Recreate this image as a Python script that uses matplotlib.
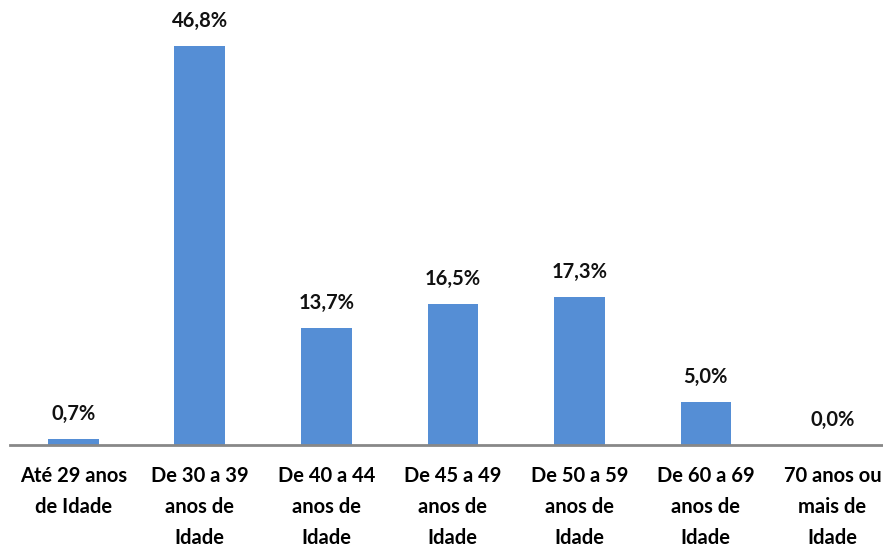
import matplotlib
matplotlib.use("Agg")
import matplotlib.pyplot as plt

plt.rcParams["font.family"] = ["Lato", "DejaVu Sans"]

categories = [
    "Até 29 anos\nde Idade",
    "De 30 a 39\nanos de\nIdade",
    "De 40 a 44\nanos de\nIdade",
    "De 45 a 49\nanos de\nIdade",
    "De 50 a 59\nanos de\nIdade",
    "De 60 a 69\nanos de\nIdade",
    "70 anos ou\nmais de\nIdade",
]
values = [0.7, 46.8, 13.7, 16.5, 17.3, 5.0, 0.0]
value_labels = ["0,7%", "46,8%", "13,7%", "16,5%", "17,3%", "5,0%", "0,0%"]

fig = plt.figure(figsize=(8.83, 5.46), dpi=100)
ax = fig.add_axes([10 / 883, 101 / 546, 873 / 883, 435 / 546])

x = list(range(len(categories)))
ax.bar(x, values, width=0.4, color="#558ED5")

for xi, v, lab in zip(x, values, value_labels):
    ax.text(xi, v + 1.8, lab, ha="center", va="bottom",
            fontsize=14.5, fontweight="bold", color="#111111")

ax.set_xlim(-0.5, 6.4)
ax.set_ylim(0, 51.0)
ax.set_xticks(x)
ax.set_xticklabels(categories, fontsize=14.5, fontweight="bold",
                   linespacing=1.7, va="top")
ax.tick_params(axis="x", length=0, pad=15)
ax.set_yticks([])
for side in ["top", "right", "left"]:
    ax.spines[side].set_visible(False)
ax.spines["bottom"].set_color("#888888")
ax.spines["bottom"].set_linewidth(2)

fig.savefig("out.png", dpi=100)
